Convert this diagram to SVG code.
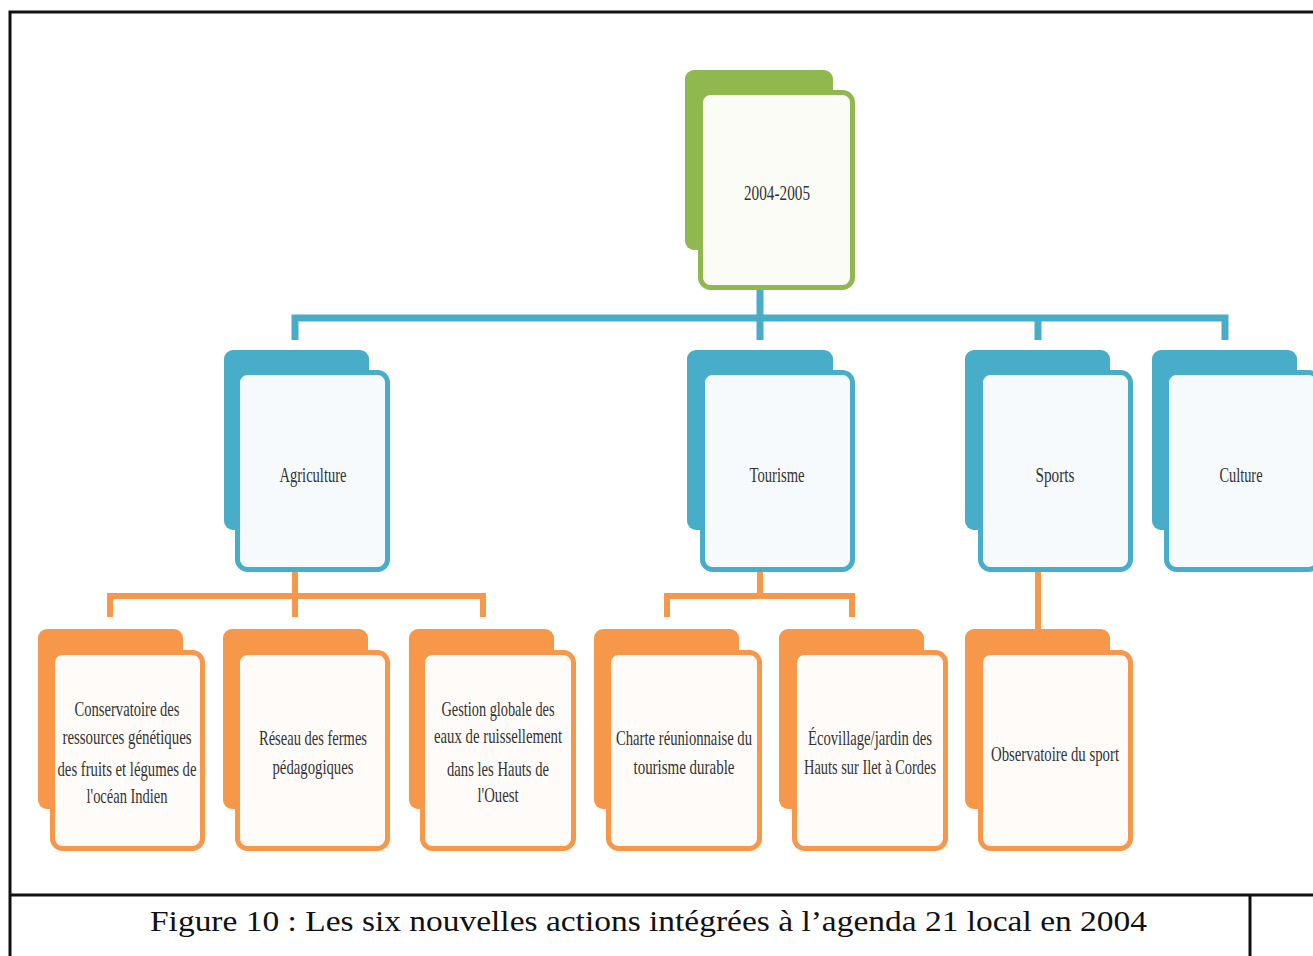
<svg xmlns="http://www.w3.org/2000/svg" width="1313" height="956" viewBox="0 0 1313 956">
<style>
.frame{fill:none;stroke:#111;stroke-width:3}
.gb{fill:#8fb94f}.gf{fill:#fbfcf6;stroke:#8fb94f;stroke-width:5}
.bb{fill:#48adc8}.bf{fill:#f6fafc;stroke:#48adc8;stroke-width:5}
.ob{fill:#f7974a}.of{fill:#fefbf8;stroke:#f7974a;stroke-width:5}
.cb{stroke:#48adc8;stroke-width:7;fill:none}
.co{stroke:#f7974a;stroke-width:6;fill:none}
.t{font-family:"Liberation Serif","DejaVu Serif",serif;font-size:21px;fill:#333;text-anchor:middle}
.cap{font-family:"Liberation Serif","DejaVu Serif",serif;font-size:30px;fill:#111}
</style>
<rect x="0" y="0" width="1313" height="956" fill="#fff"/>
<g id="frame">
<path class="frame" d="M10,895 V12 H1313"/>
<path class="frame" d="M10,895 H1313"/>
<path class="frame" d="M10,895 V956 M1250,895 V956"/>
</g>
<g id="connectors">
<path class="cb" d="M760,290 V318 M295,340 V318 H1225 V340 M760,318 V340 M1038,318 V340"/>
<path class="co" d="M295,572 V596 M110,617 V596 H483 V617 M295,596 V617"/>
<path class="co" d="M760,572 V596 M667,617 V596 H852 V617"/>
<path class="co" d="M1038,572 V630"/>
</g>
<g id="n-root">
<rect class="gb" x="685" y="70" width="148" height="180" rx="9"/>
<rect class="gf" x="700.5" y="92.5" width="152" height="195" rx="10"/>
<text class="t" x="777" y="200" textLength="66" lengthAdjust="spacingAndGlyphs">2004-2005</text>
</g>
<g id="n-agriculture">
<rect class="bb" x="224" y="350" width="145" height="180" rx="9"/>
<rect class="bf" x="237.5" y="372.5" width="150" height="197" rx="10"/>
<text class="t" x="313" y="482" textLength="67" lengthAdjust="spacingAndGlyphs">Agriculture</text>
</g>
<g id="n-tourisme">
<rect class="bb" x="687" y="350" width="146" height="180" rx="9"/>
<rect class="bf" x="702.5" y="372.5" width="150" height="197" rx="10"/>
<text class="t" x="777" y="482" textLength="55" lengthAdjust="spacingAndGlyphs">Tourisme</text>
</g>
<g id="n-sports">
<rect class="bb" x="965" y="350" width="145" height="180" rx="9"/>
<rect class="bf" x="980.5" y="372.5" width="150" height="197" rx="10"/>
<text class="t" x="1055" y="482" textLength="39" lengthAdjust="spacingAndGlyphs">Sports</text>
</g>
<g id="n-culture">
<rect class="bb" x="1152" y="350" width="145" height="180" rx="9"/>
<rect class="bf" x="1166.5" y="372.5" width="152" height="197" rx="10"/>
<text class="t" x="1241" y="482" textLength="43" lengthAdjust="spacingAndGlyphs">Culture</text>
</g>
<g id="n-conservatoire">
<rect class="ob" x="38" y="629" width="145" height="180" rx="9"/>
<rect class="of" x="52.5" y="652.5" width="150" height="196" rx="10"/>
<text class="t" x="127" y="716" textLength="105" lengthAdjust="spacingAndGlyphs">Conservatoire des</text>
<text class="t" x="127" y="744" textLength="129" lengthAdjust="spacingAndGlyphs">ressources génétiques</text>
<text class="t" x="127" y="776" textLength="139" lengthAdjust="spacingAndGlyphs">des fruits et légumes de</text>
<text class="t" x="127" y="803" textLength="81" lengthAdjust="spacingAndGlyphs">l'océan Indien</text>
</g>
<g id="n-reseau">
<rect class="ob" x="223" y="629" width="145" height="180" rx="9"/>
<rect class="of" x="237.5" y="652.5" width="150" height="196" rx="10"/>
<text class="t" x="313" y="745" textLength="108" lengthAdjust="spacingAndGlyphs">Réseau des fermes</text>
<text class="t" x="313" y="774" textLength="81" lengthAdjust="spacingAndGlyphs">pédagogiques</text>
</g>
<g id="n-gestion">
<rect class="ob" x="409" y="629" width="145" height="180" rx="9"/>
<rect class="of" x="422.5" y="652.5" width="151" height="196" rx="10"/>
<text class="t" x="498" y="716" textLength="113" lengthAdjust="spacingAndGlyphs">Gestion globale des</text>
<text class="t" x="498" y="743" textLength="128" lengthAdjust="spacingAndGlyphs">eaux de ruissellement</text>
<text class="t" x="498" y="776" textLength="102" lengthAdjust="spacingAndGlyphs">dans les Hauts de</text>
<text class="t" x="498" y="802" textLength="41" lengthAdjust="spacingAndGlyphs">l'Ouest</text>
</g>
<g id="n-charte">
<rect class="ob" x="594" y="629" width="145" height="180" rx="9"/>
<rect class="of" x="608.5" y="652.5" width="151" height="196" rx="10"/>
<text class="t" x="684" y="745" textLength="136" lengthAdjust="spacingAndGlyphs">Charte réunionnaise du</text>
<text class="t" x="684" y="774" textLength="101" lengthAdjust="spacingAndGlyphs">tourisme durable</text>
</g>
<g id="n-ecovillage">
<rect class="ob" x="779" y="629" width="145" height="180" rx="9"/>
<rect class="of" x="794.5" y="652.5" width="151" height="196" rx="10"/>
<text class="t" x="870" y="745" textLength="124" lengthAdjust="spacingAndGlyphs">Écovillage/jardin des</text>
<text class="t" x="870" y="774" textLength="132" lengthAdjust="spacingAndGlyphs">Hauts sur Ilet à Cordes</text>
</g>
<g id="n-observatoire">
<rect class="ob" x="965" y="629" width="145" height="180" rx="9"/>
<rect class="of" x="980.5" y="652.5" width="150" height="196" rx="10"/>
<text class="t" x="1055" y="761" textLength="128" lengthAdjust="spacingAndGlyphs">Observatoire du sport</text>
</g>
<g id="caption">
<text class="cap" x="150" y="931" textLength="997" lengthAdjust="spacingAndGlyphs">Figure 10 : Les six nouvelles actions intégrées à l’agenda 21 local en 2004</text>
</g>
</svg>
